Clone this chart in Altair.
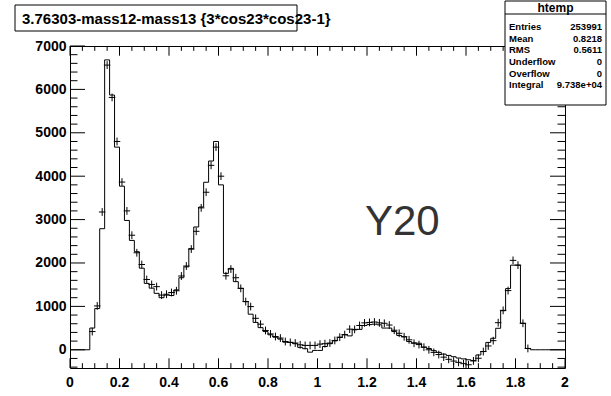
import altair as alt
import pandas as pd

# ---------------- data ----------------
bin_edges = [round(i * 0.02, 2) for i in range(101)]
hist_counts = [
    0, 0, 0, 0, 500, 950, 2790, 6680, 5870, 4670,
    3770, 2980, 2520, 2260, 1880, 1530, 1420, 1300, 1200, 1260,
    1250, 1380, 1660, 1910, 2330, 2830, 3290, 3860, 4350, 4800,
    3800, 1760, 1875, 1570, 1415, 1110, 820, 630, 510, 420,
    345, 290, 245, 175, 170, 140, 55, 25, -55, -15,
    -15, 75, 140, 205, 285, 345, 320, 460, 470, 560,
    580, 590, 575, 500, 500, 420, 330, 300, 190, 160,
    150, 60, 30, -20, -60, -100, -130, -160, -190, -210,
    -230, -250, -120, -40, 170, 265, 495, 900, 1410, 1950,
    1950, 610, 30, 0, 0, 0, 0, 0, 0, 0,
]
cross_counts = [
    None, None, None, None, 420, 1010, 3175, 6560, 5815, 4800,
    3865, 3200, 2640, 2235, 1965, 1620, 1505, 1455, 1260, 1280,
    1320, 1360, 1700, 1930, 2320, 2730, 3270, 3630, 4250, 4670,
    4000, 1705, 1860, 1660, 1415, 1110, 995, 725, 590, 445,
    365, 305, 270, 190, 170, 155, 115, 100, 100, 100,
    130, 140, 155, 215, 290, 350, 475, 470, 560, 620,
    630, 640, 620, 610, 570, 450, 380, 300, 230, 150,
    120, 60, 0, -60, -110, -170, -220, -260, -290, -320,
    -345, -256, -195, -41, 88, 210, 624, 908, 1364, 2060,
    1950, 610, 30, None, None, None, None, None, None, None,
]
x_major = [round(0.2 * i, 1) for i in range(11)]
x_major_labels = ["0", "0.2", "0.4", "0.6", "0.8", "1", "1.2", "1.4", "1.6", "1.8", "2"]
x_minor = [round(0.05 * i, 2) for i in range(41) if i % 4 != 0]
y_major = [1000 * i for i in range(8)]
y_minor = [200 * i for i in range(-2, 36) if i % 5 != 0]

title_text = "3.76303-mass12-mass13 {3*cos23*cos23-1}"
stats_name = "htemp"
stats_labels = ["Entries", "Mean", "RMS", "Underflow", "Overflow", "Integral"]
stats_values = ["253991", "0.8218", "0.5611", "0", "0", "9.738e+04"]
annotation = "Y20"

# ---------------- layout ----------------
W, H = 495, 322
PAD = {"left": 70, "top": 46, "right": 46, "bottom": 28}
FONT = "Liberation Sans"
XT, YT = 9.7, 15.0  # tick lengths

xs = alt.Scale(domain=[0, 2], nice=False, zero=False)
ys = alt.Scale(domain=[-420, 7000], nice=False, zero=False)

hist_df = pd.DataFrame({"x": bin_edges, "y": hist_counts + [hist_counts[-1]]})
cross_df = pd.DataFrame({
    "x": [bin_edges[i] + 0.01 for i in range(100) if cross_counts[i] is not None],
    "y": [c for c in cross_counts if c is not None],
})

hist = alt.Chart(hist_df).mark_line(
    interpolate="step-after", color="black", strokeWidth=1
).encode(
    x=alt.X("x:Q", scale=xs, axis=None),
    y=alt.Y("y:Q", scale=ys, axis=alt.Axis(
        values=y_major, format="d", title=None, grid=False, domain=False,
        ticks=False, labelFont=FONT, labelFontWeight="bold", labelFontSize=14,
        labelColor="black", labelPadding=4, labelOverlap=False)),
)

crosses = alt.Chart(cross_df).mark_point(
    shape="M-1,0L1,0M0,-1.2L0,1.2", size=42, filled=False,
    color="black", strokeWidth=1, opacity=1
).encode(
    x=alt.X("x:Q", scale=xs, axis=None),
    y=alt.Y("y:Q", scale=ys, axis=None),
)

xlab_df = pd.DataFrame({"x": x_major, "t": x_major_labels})
xlabels = alt.Chart(xlab_df).mark_text(
    font=FONT, fontWeight="bold", fontSize=14, align="center", baseline="middle",
    color="black"
).encode(x=alt.X("x:Q", scale=xs, axis=None), y=alt.value(H + 15), text="t:N")


def xticks(vals, length):
    df = pd.DataFrame({"x": vals})
    bottom = alt.Chart(df).mark_rule(color="black", strokeWidth=1).encode(
        x=alt.X("x:Q", scale=xs, axis=None), y=alt.value(H), y2=alt.value(H - length))
    top = alt.Chart(df).mark_rule(color="black", strokeWidth=1).encode(
        x=alt.X("x:Q", scale=xs, axis=None), y=alt.value(0), y2=alt.value(length))
    return [bottom, top]


def yticks(vals, length):
    df = pd.DataFrame({"y": vals})
    left = alt.Chart(df).mark_rule(color="black", strokeWidth=1).encode(
        y=alt.Y("y:Q", scale=ys, axis=None), x=alt.value(0), x2=alt.value(length))
    right = alt.Chart(df).mark_rule(color="black", strokeWidth=1).encode(
        y=alt.Y("y:Q", scale=ys, axis=None), x=alt.value(W), x2=alt.value(W - length))
    return [left, right]


tick_layers = xticks(x_major, XT) + xticks(x_minor, XT / 2) + yticks(y_major, YT) + yticks(y_minor, YT / 2)

one = pd.DataFrame({"a": [0]})

# title box
tb = alt.Chart(one).mark_rect(fill="white", stroke="black", strokeWidth=1).encode(
    x=alt.value(-55), x2=alt.value(227), y=alt.value(-41), y2=alt.value(-15))
tt = alt.Chart(one).mark_text(
    text=title_text, font=FONT, fontWeight="bold", fontSize=15, align="left",
    baseline="alphabetic", color="black").encode(x=alt.value(-48), y=alt.value(-22))

# stats box
SX0, SX1, SY0, SY1 = 435, 536, -45, 59
sb = alt.Chart(one).mark_rect(fill="white", stroke="black", strokeWidth=1).encode(
    x=alt.value(SX0), x2=alt.value(SX1), y=alt.value(SY0), y2=alt.value(SY1))
sline = alt.Chart(one).mark_rule(color="black", strokeWidth=1).encode(
    x=alt.value(SX0), x2=alt.value(SX1), y=alt.value(SY0 + 13))
sname = alt.Chart(one).mark_text(
    text=stats_name, font=FONT, fontWeight="bold", fontSize=12, align="center",
    baseline="middle", color="black").encode(x=alt.value((SX0 + SX1) / 2), y=alt.value(SY0 + 7))
stats_df = pd.DataFrame({"lab": stats_labels, "val": stats_values, "row": list(range(6))})
row_scale = alt.Scale(domain=list(range(6)), range=[SY0 + 20, SY0 + 90])
slab = alt.Chart(stats_df).mark_text(
    font=FONT, fontWeight="bold", fontSize=9.5, align="left", baseline="middle", color="black"
).encode(text="lab:N", x=alt.value(SX0 + 4), y=alt.Y("row:O", scale=row_scale, axis=None))
sval = alt.Chart(stats_df).mark_text(
    font=FONT, fontWeight="bold", fontSize=9.5, align="right", baseline="middle", color="black"
).encode(text="val:N", x=alt.value(SX1 - 4), y=alt.Y("row:O", scale=row_scale, axis=None))

y20 = alt.Chart(one).mark_text(
    text=annotation, font=FONT, fontSize=42, align="left", baseline="alphabetic",
    color="#333333").encode(x=alt.value(295), y=alt.value(189))

chart = alt.layer(
    hist, crosses, xlabels, *tick_layers, tb, tt, sb, sline, sname, slab, sval, y20
).properties(
    width=W, height=H, padding=PAD, autosize=alt.AutoSizeParams(type="none"),
    background="white",
).configure_view(stroke="black", strokeWidth=1)

chart.save("out.html", embed_options={"renderer": "svg", "actions": False})
